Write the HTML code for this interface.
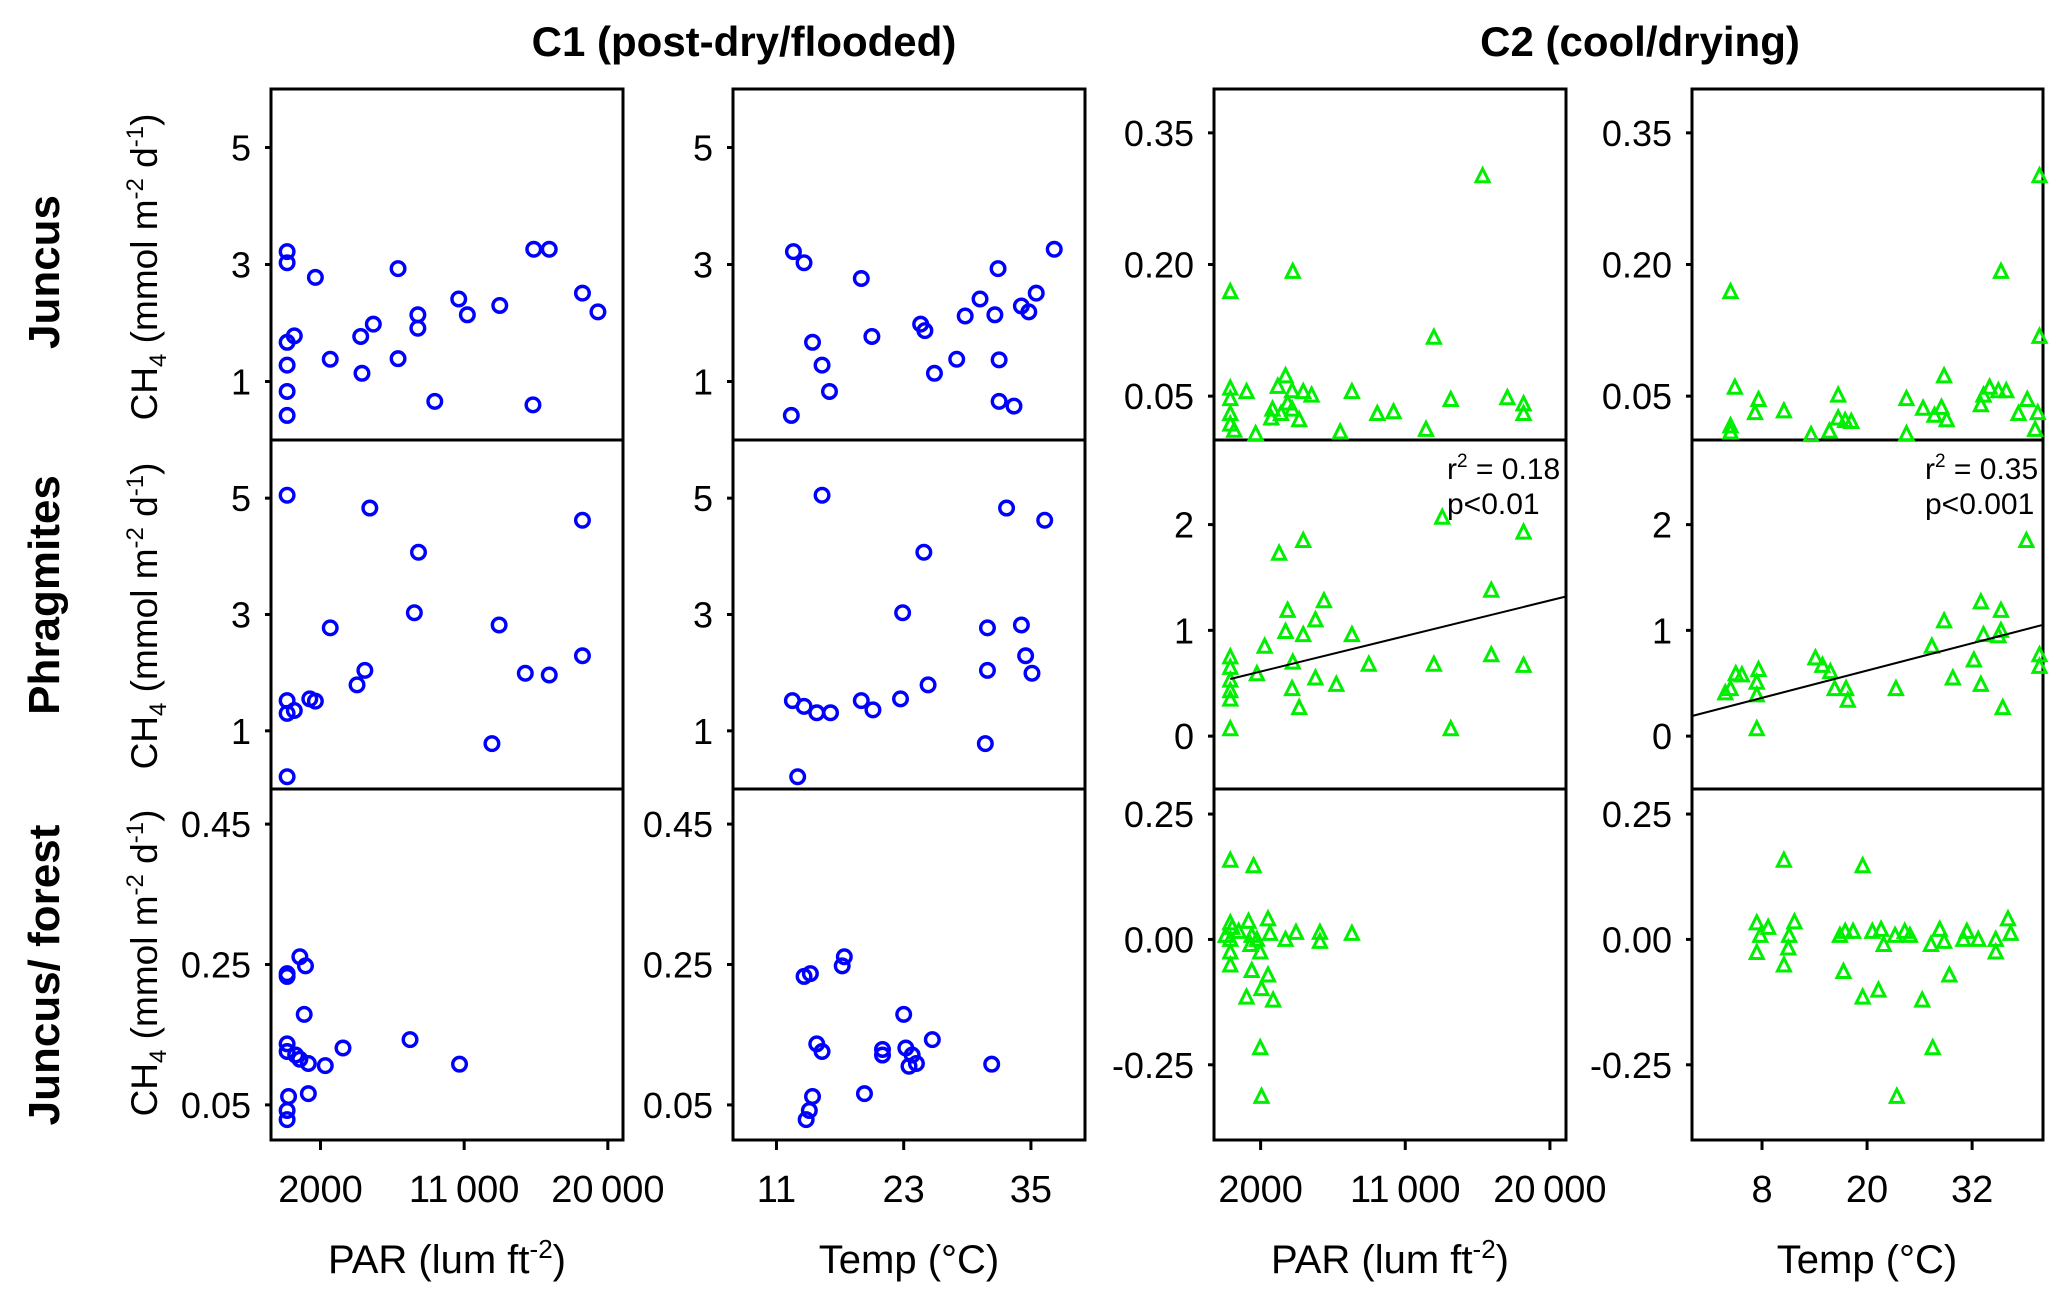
<!DOCTYPE html>
<html><head><meta charset="utf-8">
<style>
html,body{margin:0;padding:0;background:#fff;}
svg{display:block;font-family:"Liberation Sans",Arial,sans-serif;}
</style></head>
<body>
<svg id="chart" width="2067" height="1297" viewBox="0 0 2067 1297" xmlns="http://www.w3.org/2000/svg"></svg>
<script>
// ---------- data ----------
const c1JuncusPar = [-90,-90,1680,6860,10660,11200,13230,15360,16330,18410,19380,-90,360,-90,-90,-90,2610,4520,5310,4600,6860,8100,8100,9160,15310];
const c1JuncusParCh4 = [3.22,3.03,2.78,2.93,2.41,2.14,2.30,3.26,3.26,2.51,2.19,1.67,1.78,1.28,0.83,0.42,1.38,1.77,1.98,1.14,1.39,2.14,1.91,0.66,0.60];
const c1JuncusTemp = [12.6,13.6,19.0,14.4,15.3,16.0,12.4,20.0,24.6,25.0,25.9,28.0,28.8,30.2,31.6,31.9,32.0,32.0,33.4,34.1,34.8,35.5,37.2];
const c1JuncusTempCh4 = [3.22,3.03,2.76,1.67,1.28,0.83,0.42,1.77,1.98,1.87,1.14,1.38,2.12,2.41,2.14,2.93,1.37,0.66,0.58,2.29,2.19,2.51,3.26];
const c1PhragPar = [-90,5090,8140,7880,2610,13190,18410,18410,4780,4290,14830,16330,-90,-90,360,1330,1680,12740,-90];
const c1PhragParCh4 = [5.05,4.83,4.07,3.03,2.77,2.82,4.62,2.29,2.04,1.79,1.99,1.96,1.52,1.30,1.35,1.55,1.51,0.78,0.21];
const c1PhragTemp = [15.3,32.7,24.9,22.9,30.9,34.1,36.3,34.5,30.9,25.3,35.1,12.5,13.6,14.8,16.1,19.0,20.1,22.7,30.7,13.0];
const c1PhragTempCh4 = [5.05,4.83,4.07,3.03,2.77,2.82,4.62,2.29,2.04,1.79,1.99,1.52,1.42,1.31,1.31,1.52,1.36,1.55,0.78,0.21];
const c1ForestPar = [-90,-90,708,1060,980,-90,-90,444,708,1240,2300,3410,7610,10710,1240,0,-90,-90];
const c1ForestParCh4 = [0.233,0.237,0.261,0.248,0.179,0.137,0.126,0.121,0.115,0.109,0.106,0.131,0.143,0.108,0.066,0.062,0.042,0.029];
const c1ForestTemp = [13.6,14.2,17.4,17.2,23.0,14.8,15.3,21.0,21.0,23.2,23.8,24.2,23.5,25.7,31.3,19.3,14.4,14.1,13.8];
const c1ForestTempCh4 = [0.233,0.237,0.261,0.248,0.179,0.137,0.126,0.129,0.121,0.131,0.121,0.109,0.105,0.143,0.108,0.066,0.062,0.042,0.029];
const c2JuncusPar = [113,4000,15810,12780,113,113,113,113,355,1125,1690,3550,3070,3960,4650,5170,2740,2660,3270,3960,4400,6950,7680,9260,10270,12290,13830,17350,18360,18360,3680];
const c2JuncusParCh4 = [0.168,0.191,0.300,0.116,0.058,0.046,0.029,0.017,0.010,0.054,0.006,0.072,0.060,0.055,0.054,0.050,0.034,0.024,0.029,0.034,0.022,0.008,0.054,0.029,0.031,0.011,0.045,0.047,0.040,0.029,0.041];
const c2JuncusTemp = [4.4,4.9,4.4,4.4,7.6,7.2,10.5,13.6,15.7,16.7,16.7,17.5,18.2,24.5,24.5,26.4,27.7,28.5,29.1,28.8,33.0,33.3,34.0,35.0,35.9,35.3,38.3,37.3,39.5,39.2,39.7,39.7];
const c2JuncusTempCh4 = [0.168,0.059,0.015,0.008,0.045,0.030,0.032,0.005,0.009,0.050,0.024,0.021,0.020,0.046,0.006,0.035,0.027,0.036,0.022,0.072,0.039,0.050,0.059,0.055,0.055,0.191,0.045,0.029,0.030,0.011,0.117,0.300];
const c2PhragPar = [3150,4650,3680,5940,5410,3550,4650,7680,2250,13300,18360,16350,113,113,113,113,113,113,1770,4000,3960,4400,5410,6710,8730,12780,13830,16350,18360];
const c2PhragParCh4 = [1.72,1.84,1.18,1.27,1.09,0.98,0.95,0.95,0.84,2.06,1.92,1.37,0.74,0.64,0.52,0.42,0.34,0.06,0.58,0.69,0.44,0.26,0.54,0.48,0.67,0.67,0.06,0.76,0.66];
const c2PhragTemp = [35.3,33.0,28.8,33.3,35.0,35.3,27.4,38.2,4.4,3.8,5.0,5.7,7.6,7.4,7.4,7.4,14.1,14.9,15.8,16.3,17.6,17.8,23.3,29.8,32.2,33.0,35.5,39.7,39.7];
const c2PhragTempCh4 = [1.18,1.26,1.08,0.95,0.94,0.99,0.84,1.84,0.44,0.40,0.58,0.57,0.62,0.50,0.38,0.06,0.73,0.66,0.60,0.44,0.44,0.33,0.44,0.54,0.71,0.48,0.26,0.76,0.65];
const c2ForestPar = [113,1565,113,230,634,-170,113,1243,1447,1770,2460,2580,1367,1975,113,113,1447,2460,2055,1125,2780,1975,2055,3550,4200,5690,5690,7680];
const c2ForestParCh4 = [0.156,0.145,0.031,0.022,0.014,0.006,-0.002,0.034,0.006,-0.002,0.039,0.010,-0.012,-0.027,-0.027,-0.053,-0.064,-0.073,-0.100,-0.117,-0.123,-0.218,-0.315,-0.002,0.012,0.012,-0.006,0.010];
const c2ForestTemp = [10.5,19.5,7.4,7.8,7.4,8.7,11.7,11.1,11.0,10.5,17.3,16.9,17.5,18.4,19.5,20.6,21.6,21.9,21.3,23.2,24.3,24.9,26.3,27.3,28.3,28.8,27.5,23.4,29.4,31.4,31.0,32.7,34.7,34.7,36.1,36.4];
const c2ForestTempCh4 = [0.156,0.145,0.031,0.006,-0.028,0.022,0.033,0.006,-0.019,-0.053,-0.066,0.006,0.014,0.014,-0.117,0.014,0.018,-0.012,-0.103,0.006,0.014,0.006,-0.123,-0.012,0.018,-0.006,-0.218,-0.315,-0.073,0.014,-0.002,-0.002,-0.002,-0.027,0.039,0.010];
const c2PhragParFitX = [113,21000];
const c2PhragParFitY = [0.54,1.32];
const c2PhragTempFitX = [0,40];
const c2PhragTempFitY = [0.19,1.05];
const parTicks = [2000,11000,20000];
const parTickLabels = ["2000","11\u2009000","20\u2009000"];
const c1TempTicks = [11,23,35];
const c2TempTicks = [8,20,32];
const ch4TicksA = [1,3,5];
const ch4TicksForest1 = [0.05,0.25,0.45];
const c2JuncusTicks = [0.05,0.20,0.35];
const c2PhragTicks = [0,1,2];
const c2ForestTicks = [-0.25,0,0.25];

// ---------- layout ----------
const NS = "http://www.w3.org/2000/svg";
const svg = document.getElementById('chart');
const colX = [[271,623],[733,1085],[1214,1566],[1692,2043]];
const rowY = [[89,440],[440,789],[789,1140]];
const xDomains = [[-1100,20950],[6.9,40.1],[-900,21000],[0,40.1]];
const yDomains = [
  [[0,6],[0,6],[0,0.4],[0,0.4]],
  [[0,6],[0,6],[-0.5,2.8],[-0.5,2.8]],
  [[0,0.5],[0,0.5],[-0.4,0.3],[-0.4,0.3]]
];
function sx(c,v){const d=xDomains[c],r=colX[c];return r[0]+(v-d[0])/(d[1]-d[0])*(r[1]-r[0]);}
function sy(r,c,v){const d=yDomains[r][c],p=rowY[r];return p[1]-(v-d[0])/(d[1]-d[0])*(p[1]-p[0]);}
function mk(tag,attrs,parent){const e=document.createElementNS(NS,tag);for(const k in attrs)e.setAttribute(k,attrs[k]);(parent||svg).appendChild(e);return e;}

for(let c=0;c<4;c++){
  const [x0,x1]=colX[c];
  const g=mk('g',{});
  
  
  const fr=mk('rect',{x:x0,y:89,width:x1-x0,height:1051,fill:'none',stroke:'#000','stroke-width':3},g);
  
  
  for(const yy of [440,789]){
    const l=mk('line',{x1:x0,x2:x1,y1:yy,y2:yy,stroke:'#000','stroke-width':3},g);
    
    
  }
}

const yTickSets=[[ch4TicksA,ch4TicksA,c2JuncusTicks,c2JuncusTicks],[ch4TicksA,ch4TicksA,c2PhragTicks,c2PhragTicks],[ch4TicksForest1,ch4TicksForest1,c2ForestTicks,c2ForestTicks]];
function fmtY(r,c,v){
  if(r<2&&c<2) return String(v);
  if(r===1) return String(v);
  if(r===2&&c>=2) return v===0?"0.00":(v<0?"-":"")+Math.abs(v).toFixed(2);
  return v.toFixed(2);
}
for(let r=0;r<3;r++)for(let c=0;c<4;c++){
  for(const v of yTickSets[r][c]){
    const y=sy(r,c,v);
    const t=mk('line',{x1:colX[c][0]-6,x2:colX[c][0],y1:y,y2:y,stroke:'#000','stroke-width':3});
    
    
    const tx=mk('text',{x:colX[c][0]-20,y:y+13,'font-size':36,'text-anchor':'end',fill:'#000'});
    tx.textContent=fmtY(r,c,v);
    
    
  }
}
const xTickSets=[parTicks,c1TempTicks,parTicks,c2TempTicks];
for(let c=0;c<4;c++){
  xTickSets[c].forEach((v,i)=>{
    const x=sx(c,v);
    const t=mk('line',{x1:x,x2:x,y1:1140,y2:1150,stroke:'#000','stroke-width':3});
    
    
    const tx=mk('text',{x:x,y:1202,'font-size':38,'text-anchor':'middle',fill:'#000'});
    tx.textContent=(c===0||c===2)?parTickLabels[i]:String(v);
    
    
  });
}
function xTitle(cx,html,name){
  const t=mk('text',{x:cx,y:1273,'font-size':40,'text-anchor':'middle',fill:'#000'});
  t.innerHTML=html;
  
  
}
xTitle(447,'PAR (lum ft<tspan dy="-15" font-size="26">-2</tspan><tspan dy="15">)</tspan>','x-axis-title-par-c1');
xTitle(909,'Temp (°C)','x-axis-title-temp-c1');
xTitle(1390,'PAR (lum ft<tspan dy="-15" font-size="26">-2</tspan><tspan dy="15">)</tspan>','x-axis-title-par-c2');
xTitle(1867,'Temp (°C)','x-axis-title-temp-c2');

[[744,'C1 (post-dry/flooded)','column-title-c1'],[1640,'C2 (cool/drying)','column-title-c2']].forEach(a=>{
  const t=mk('text',{x:a[0],y:56,'font-size':42,'font-weight':'bold','text-anchor':'middle',fill:'#000'});
  t.textContent=a[1];
  
  
});
[['Juncus',272,267],['Phragmites',595,616],['Juncus/ forest',975,963]].forEach((a,i)=>{
  const t=mk('text',{x:0,y:0,'font-size':44,'font-weight':'bold','text-anchor':'middle',fill:'#000',transform:`translate(59,${a[1]}) rotate(-90)`});
  t.textContent=a[0];
  
  
  const y=mk('text',{x:0,y:0,'font-size':37,'text-anchor':'middle',fill:'#000',transform:`translate(157,${a[2]}) rotate(-90)`});
  y.innerHTML='CH<tspan dy="9" font-size="24">4</tspan><tspan dy="-9"> (mmol m</tspan><tspan dy="-14" font-size="24">-2</tspan><tspan dy="14"> d</tspan><tspan dy="-14" font-size="24">-1</tspan><tspan dy="14">)</tspan>';
  
  
});

const series=[
  [0,0,c1JuncusPar,c1JuncusParCh4,'c'],[0,1,c1JuncusTemp,c1JuncusTempCh4,'c'],
  [1,0,c1PhragPar,c1PhragParCh4,'c'],[1,1,c1PhragTemp,c1PhragTempCh4,'c'],
  [2,0,c1ForestPar,c1ForestParCh4,'c'],[2,1,c1ForestTemp,c1ForestTempCh4,'c'],
  [0,2,c2JuncusPar,c2JuncusParCh4,'t'],[0,3,c2JuncusTemp,c2JuncusTempCh4,'t'],
  [1,2,c2PhragPar,c2PhragParCh4,'t'],[1,3,c2PhragTemp,c2PhragTempCh4,'t'],
  [2,2,c2ForestPar,c2ForestParCh4,'t'],[2,3,c2ForestTemp,c2ForestTempCh4,'t']
];
series.forEach(s=>{
  const [r,c,xs,ys,shape]=s;
  xs.forEach((xv,i)=>{
    const x=sx(c,xv),y=sy(r,c,ys[i]);
    let e;
    if(shape==='c'){
      e=mk('circle',{cx:x,cy:y,r:6.8,fill:'none',stroke:'#0000ff','stroke-width':3.4});
    }else{
      e=mk('polygon',{points:`${x},${y-8} ${x-6.5},${y+5} ${x+6.5},${y+5}`,fill:'none',stroke:'#00ee00','stroke-width':3});
    }
    
    
  });
});
[[2,c2PhragParFitX,c2PhragParFitY],[3,c2PhragTempFitX,c2PhragTempFitY]].forEach(f=>{
  const [c,fx,fy]=f;
  const xe=Math.min(fx[1],xDomains[c][1]);
  const yEnd=fy[0]+(fy[1]-fy[0])*(xe-fx[0])/(fx[1]-fx[0]);
  const l=mk('line',{x1:sx(c,fx[0]),y1:sy(1,c,fy[0]),x2:sx(c,xe),y2:sy(1,c,yEnd),stroke:'#000','stroke-width':2});
  
  
});
[[1447,'0.18','p<0.01'],[1925,'0.35','p<0.001']].forEach((a,i)=>{
  const t=mk('text',{x:a[0],y:479,'font-size':30,fill:'#000'});
  t.innerHTML='r<tspan dy="-12" font-size="19">2</tspan><tspan dy="12"> = '+a[1]+'</tspan>';
  
  
  const p=mk('text',{x:a[0],y:514,'font-size':30,fill:'#000'});
  p.textContent=a[2];
  
  
});
</script>
</body></html>
